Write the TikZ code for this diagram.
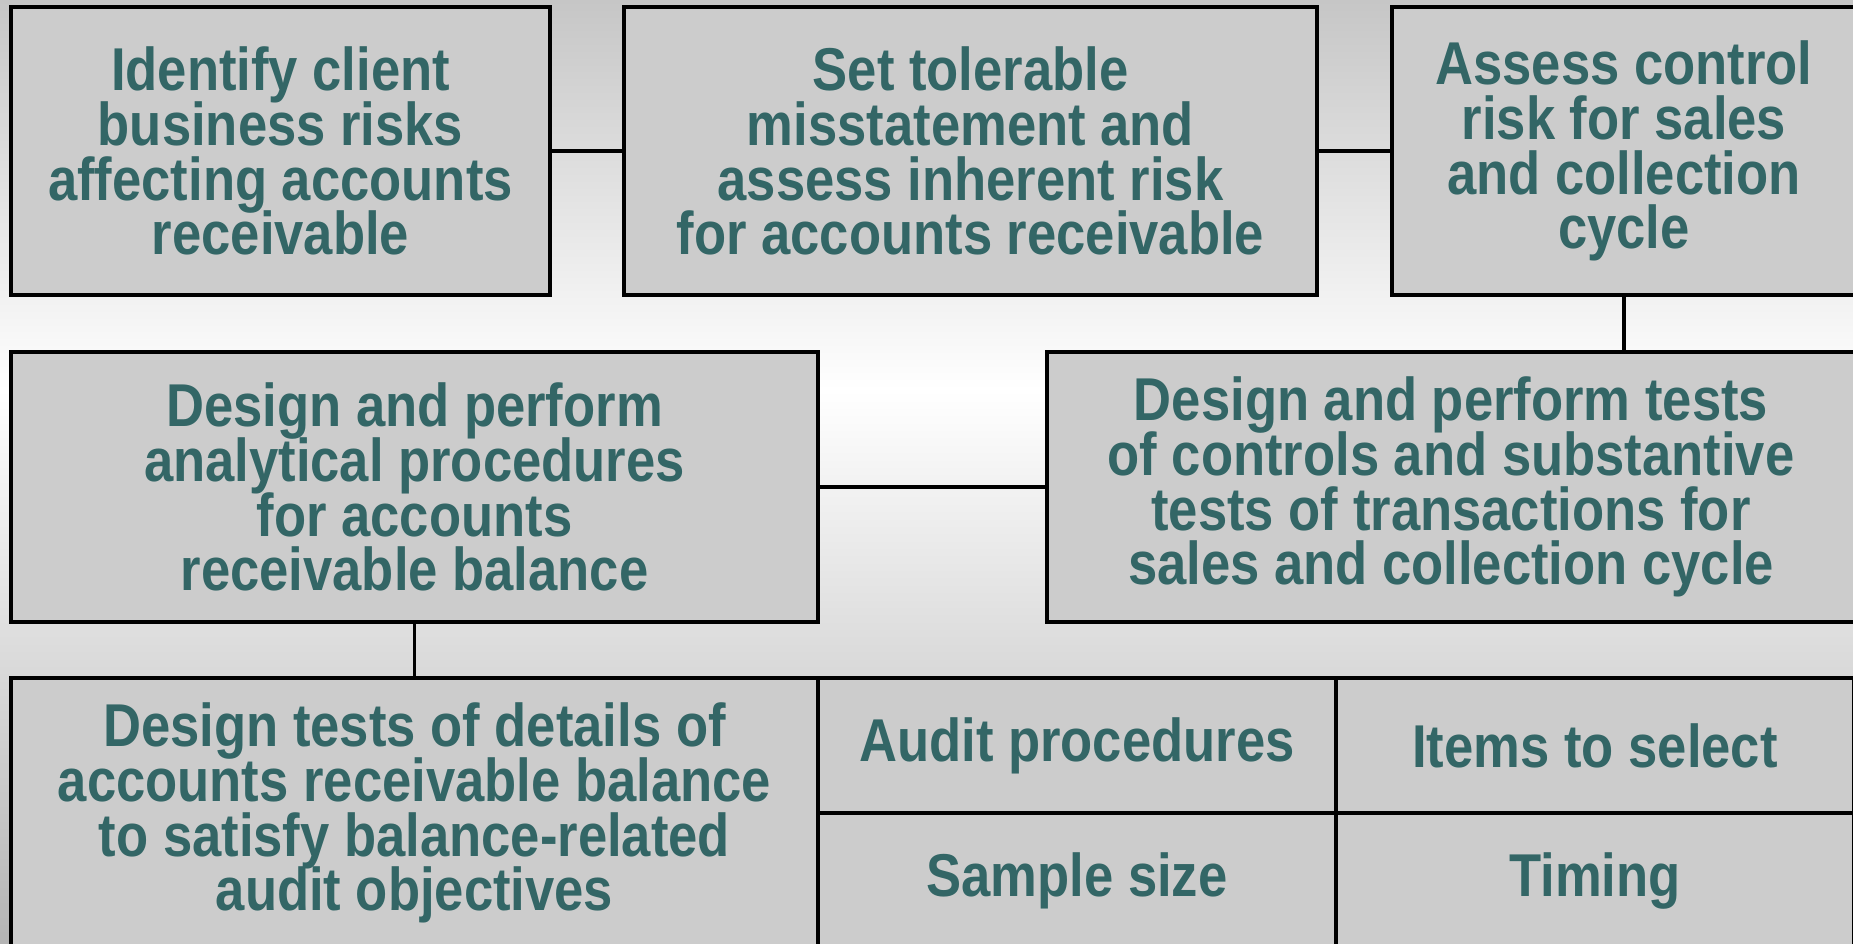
\documentclass[tikz,border=0pt]{standalone}
\usepackage{fontspec}
\setmainfont{Liberation Sans}[FakeStretch=0.87]
\usepackage{tikz}
\usetikzlibrary{positioning}

\definecolor{boxgray}{HTML}{CCCCCC}
\definecolor{tealtext}{HTML}{336666}
\definecolor{bgtop}{HTML}{C6C6C6}
\definecolor{bgbottom}{HTML}{B4B4B4}

\newcommand{\boxfont}{\bfseries\fontsize{17.2}{15.6}\selectfont\lineskiplimit=-20pt\relax}

\begin{document}
\begin{tikzpicture}[
    box/.style={rectangle, draw=black, line width=1.1pt, fill=boxgray,
                text=tealtext, align=center, inner sep=2pt, outer sep=0pt,
                font=\boxfont},
    cell/.style={box, minimum width=5.18cm, minimum height=1.35cm},
    link/.style={draw=black, line width=1pt},
]

% background
\useasboundingbox (0,0) rectangle (18.53,-9.43);
\clip (0,0) rectangle (18.53,-9.43);
\shade[top color=bgtop, bottom color=white] (0,0) rectangle (18.53,-3.9);
\shade[top color=white, bottom color=bgbottom] (0,-3.9) rectangle (18.53,-9.43);

% Top row
\node[box, anchor=north west, minimum width=5.39cm, minimum height=2.88cm]
    (risks) at (0.11,-0.07)
    {Identify client\\business risks\\affecting accounts\\receivable};
\node[box, right=0.74cm of risks, minimum width=6.93cm, minimum height=2.88cm]
    (tolerable)
    {Set tolerable\\misstatement and\\assess inherent risk\\for accounts receivable};
\node[box, right=0.75cm of tolerable, minimum width=4.64cm, minimum height=2.88cm]
    (control)
    {Assess control\\risk for sales\\and collection\\cycle};

% Middle row
\node[box, below=0.57cm of risks.south west, anchor=north west,
    minimum width=8.07cm, minimum height=2.70cm] (analytical)
    {Design and perform\\analytical procedures\\for accounts\\receivable balance};
\node[box, right=2.29cm of analytical, minimum width=8.08cm, minimum height=2.70cm]
    (tests)
    {Design and perform tests\\of controls and substantive\\tests of transactions for\\sales and collection cycle};

% Bottom row
\node[box, below=0.56cm of analytical.south west, anchor=north west,
    minimum width=8.07cm, minimum height=2.70cm] (details)
    {Design tests of details of\\accounts receivable balance\\to satisfy balance-related\\audit objectives};
\node[cell, anchor=north west] (procs) at (details.north east) {Audit procedures};
\node[cell, right=0cm of procs] (items) {Items to select};
\node[cell, below=0cm of procs] (size) {Sample size};
\node[cell, below=0cm of items] (timing) {Timing};

% Links
\draw[link] (risks) -- (tolerable);
\draw[link] (tolerable) -- (control);
\draw[link] (control.south) -- (control.south |- tests.north);
\draw[link] (analytical) -- (tests);
\draw[link] (analytical) -- (details);

\end{tikzpicture}
\end{document}
